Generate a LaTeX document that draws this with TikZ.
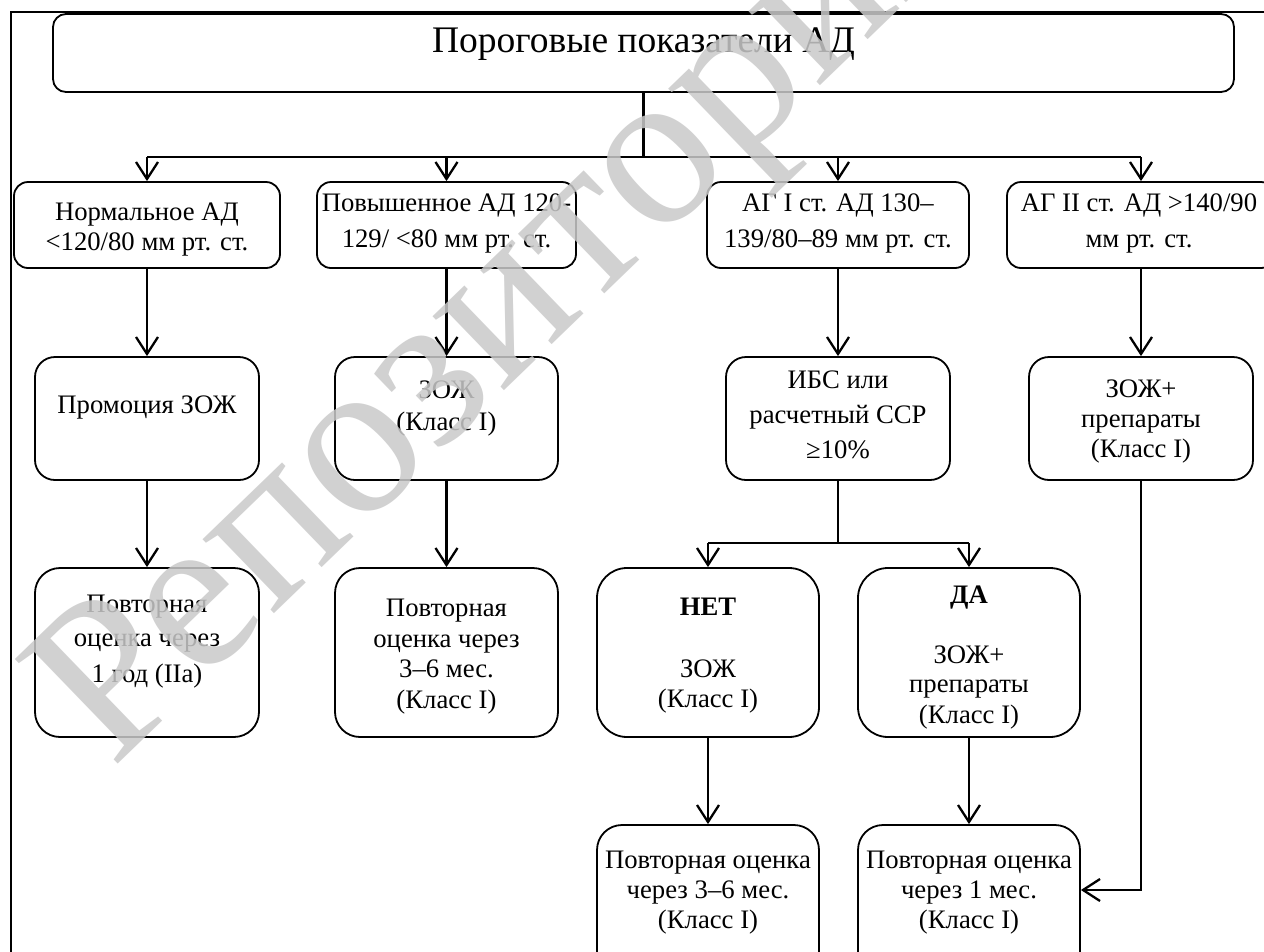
\documentclass[tikz,border=0pt]{standalone}
\usepackage{fontspec}
\setmainfont{Liberation Serif}
\usetikzlibrary{arrows.meta}
\begin{document}
\begin{tikzpicture}[x=1pt,y=-1pt,
  box/.style={draw, line width=1.8pt, inner sep=0pt, rectangle, rounded corners=#1},
  box/.default=14pt,
  conn/.style={line width=2.3pt},
  arr/.style={line width=2.3pt, -{Straight Barb[length=17pt,width=22pt]}},
  txt/.style={anchor=base, inner sep=0pt, font=\fontsize{26.7pt}{30pt}\selectfont},
  ttl/.style={anchor=base, inner sep=0pt, font=\fontsize{37.5pt}{42pt}\selectfont},
  wm/.style={anchor=base west, inner sep=0pt, rotate=44, text=black!21, text opacity=0.85,
    font=\fontsize{224pt}{224pt}\selectfont},
]
\useasboundingbox (0,0) rectangle (1264,951);
\clip (0,0) rectangle (1264,951);
\fill[white] (0,0) rectangle (1264,951);

% outer frame
\draw[line width=2pt] (11,960) -- (11,12) -- (1270,12);

% boxes
\node[box=13pt, minimum width=1181pt, minimum height=78pt] (title) at (643.5,53) {};
\node[box, minimum width=266pt, minimum height=86pt] (n1) at (147,225) {};
\node[box, minimum width=259pt, minimum height=86pt] (n2) at (446.5,225) {};
\node[box, minimum width=262pt, minimum height=86pt] (n3) at (838,225) {};
\node[box, minimum width=268pt, minimum height=86pt] (n4) at (1141,225) {};

\node[box=20pt, minimum width=224pt, minimum height=123pt] (p1) at (147,418.5) {};
\node[box=20pt, minimum width=223pt, minimum height=123pt] (p2) at (446.5,418.5) {};
\node[box=20pt, minimum width=224pt, minimum height=123pt] (p3) at (838,418.5) {};
\node[box=20pt, minimum width=224pt, minimum height=123pt] (p4) at (1141,418.5) {};

\node[box=25pt, minimum width=224pt, minimum height=169pt] (q1) at (147,652.5) {};
\node[box=25pt, minimum width=223pt, minimum height=169pt] (q2) at (446.5,652.5) {};
\node[box=30pt, minimum width=222pt, minimum height=169pt] (q3) at (708,652.5) {};
\node[box=30pt, minimum width=222pt, minimum height=169pt] (q4) at (969,652.5) {};

\node[box=25pt, minimum width=222pt, minimum height=170pt] (r3) at (708,910) {};
\node[box=25pt, minimum width=222pt, minimum height=170pt] (r4) at (969,910) {};

% texts
\node[ttl] (tt) at (643.5,52) {Пороговые показатели АД};

\node[txt] (t1a) at (147,220) {Нормальное АД};
\node[txt] (t1b) at (147,250) {<120/80 мм рт. ст.};
\node[txt] (t2a) at (446.5,211) {Повышенное АД 120-};
\node[txt] (t2b) at (446.5,247) {129/ <80 мм рт. ст.};
\node[txt] (t3a) at (838,211) {АГ I ст. АД 130–};
\node[txt] (t3b) at (838,247) {139/80–89 мм рт. ст.};
\node[txt] (t4a) at (1139,211) {АГ II ст. АД >140/90};
\node[txt] (t4b) at (1139,247) {мм рт. ст.};

\node[txt] (u1a) at (147,413) {Промоция ЗОЖ};
\node[txt] (u2a) at (446.5,398) {ЗОЖ};
\node[txt] (u2b) at (446.5,430) {(Класс I)};
\node[txt] (u3a) at (838,388) {ИБС или};
\node[txt] (u3b) at (838,423) {расчетный ССР};
\node[txt] (u3c) at (838,458) {≥10\%};
\node[txt] (u4a) at (1141,397) {ЗОЖ+};
\node[txt] (u4b) at (1141,427) {препараты};
\node[txt] (u4c) at (1141,457) {(Класс I)};

\node[txt] (v1a) at (147,612) {Повторная};
\node[txt] (v1b) at (147,646) {оценка через};
\node[txt] (v1c) at (147,682) {1 год (IIa)};
\node[txt] (v2a) at (446.5,616) {Повторная};
\node[txt] (v2b) at (446.5,647) {оценка через};
\node[txt] (v2c) at (446.5,677) {3–6 мес.};
\node[txt] (v2d) at (446.5,708) {(Класс I)};
\node[txt, font=\fontsize{26.7pt}{30pt}\selectfont\bfseries] (v3a) at (708,615) {НЕТ};
\node[txt] (v3b) at (708,677) {ЗОЖ};
\node[txt] (v3c) at (708,707) {(Класс I)};
\node[txt, font=\fontsize{26.7pt}{30pt}\selectfont\bfseries] (v4a) at (969,603) {ДА};
\node[txt] (v4b) at (969,663) {ЗОЖ+};
\node[txt] (v4c) at (969,692) {препараты};
\node[txt] (v4d) at (969,723) {(Класс I)};

\node[txt] (w3a) at (708,868) {Повторная оценка};
\node[txt] (w3b) at (708,898) {через 3–6 мес.};
\node[txt] (w3c) at (708,928) {(Класс I)};
\node[txt] (w4a) at (969,868) {Повторная оценка};
\node[txt] (w4b) at (969,898) {через 1 мес.};
\node[txt] (w4c) at (969,928) {(Класс I)};

% connectors
\coordinate (hb) at (643.5,157);
\draw[conn] (title.south) -- (hb);
\draw[conn] (n1.north |- hb) -- (n4.north |- hb);
\foreach \n in {n1,n2,n3,n4} \draw[arr] (\n.north |- hb) -- (\n.north);

\draw[arr] (n1.south) -- (p1.north);
\draw[arr] (n2.south) -- (p2.north);
\draw[arr] (n3.south) -- (p3.north);
\draw[arr] (n4.south) -- (p4.north);

\draw[arr] (p1.south) -- (q1.north);
\draw[arr] (p2.south) -- (q2.north);

\coordinate (hs) at (838,543);
\draw[conn] (p3.south) -- (hs);
\draw[conn] (q3.north |- hs) -- (q4.north |- hs);
\draw[arr] (q3.north |- hs) -- (q3.north);
\draw[arr] (q4.north |- hs) -- (q4.north);

\draw[arr] (q3.south) -- (r3.north);
\draw[arr] (q4.south) -- (r4.north);

\coordinate (elbow) at (1141,890);
\draw[arr] (p4.south) -- (elbow) -- (elbow -| r4.east);

% watermark
\node[wm] (wmark) at (112,770) {Репозиторий};
\end{tikzpicture}
\end{document}
